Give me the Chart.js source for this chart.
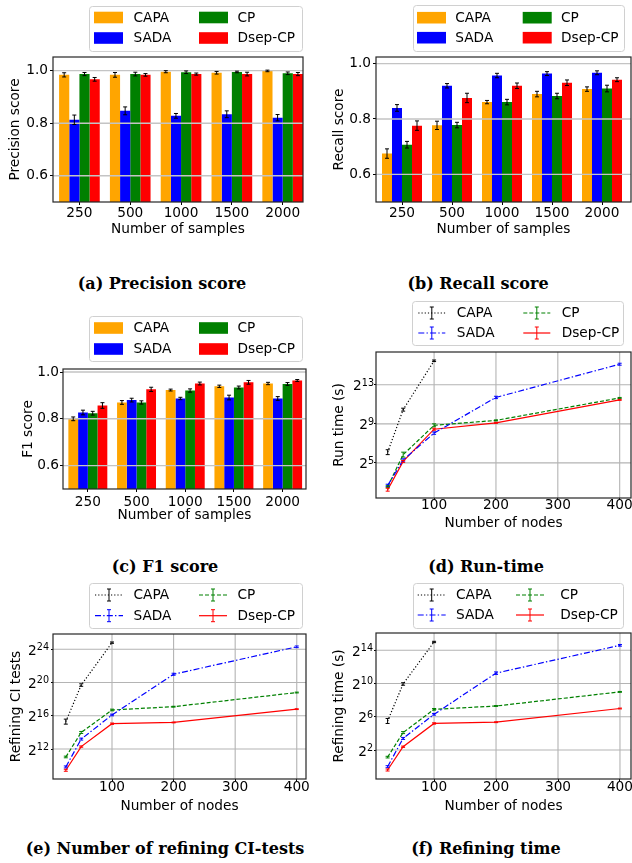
<!DOCTYPE html>
<html>
<head>
<meta charset="utf-8">
<script src="https://cdn.jsdelivr.net/npm/chart.js@4.4.1/dist/chart.umd.min.js"></script>
<style>
  body { margin: 0; background: #fff; width: 632px; height: 863px; position: relative; overflow: hidden; }
  canvas { position: absolute; }
  .cap { position: absolute; width: 340px; line-height: 20px; text-align: center; white-space: nowrap;
         font-family: "DejaVu Serif", serif; font-weight: bold; font-size: 16px; color: #000; }
</style>
</head>
<body>
<canvas id="pa"></canvas><canvas id="pb"></canvas>
<canvas id="pc"></canvas><canvas id="pd"></canvas>
<canvas id="pe"></canvas><canvas id="pf"></canvas>
<div class="cap" style="left:-8px;top:274px">(a) Precision score</div>
<div class="cap" style="left:308px;top:274px">(b) Recall score</div>
<div class="cap" style="left:-5px;top:557px">(c) F1 score</div>
<div class="cap" style="left:316px;top:557px">(d) Run-time</div>
<div class="cap" style="left:-5px;top:839px">(e) Number of refining CI-tests</div>
<div class="cap" style="left:316px;top:839px">(f) Refining time</div>
<script>
(function () {
  'use strict';

  // ---- data ----
  const sampleSizes = ['250', '500', '1000', '1500', '2000'];
  const nodeCounts  = [25, 50, 100, 200, 400];
  const methods     = ['CAPA', 'SADA', 'CP', 'Dsep-CP'];

  const precisionCAPA = [0.984, 0.984, 0.996, 0.992, 0.999];
  const precisionSADA = [0.813, 0.847, 0.828, 0.834, 0.821];
  const precisionCP   = [0.987, 0.987, 0.994, 0.995, 0.990];
  const precisionDsep = [0.967, 0.984, 0.987, 0.987, 0.987];
  const precisionErrCAPA = [0.008, 0.009, 0.004, 0.005, 0.003];
  const precisionErrSADA = [0.018, 0.015, 0.009, 0.013, 0.012];
  const precisionErrCP   = [0.006, 0.007, 0.005, 0.003, 0.005];
  const precisionErrDsep = [0.007, 0.005, 0.004, 0.007, 0.006];

  const recallCAPA = [0.675, 0.777, 0.861, 0.890, 0.908];
  const recallSADA = [0.840, 0.920, 0.957, 0.964, 0.967];
  const recallCP   = [0.707, 0.778, 0.861, 0.883, 0.910];
  const recallDsep = [0.776, 0.876, 0.920, 0.931, 0.942];
  const recallErrCAPA = [0.017, 0.015, 0.006, 0.010, 0.008];
  const recallErrSADA = [0.012, 0.008, 0.008, 0.007, 0.007];
  const recallErrCP   = [0.012, 0.010, 0.010, 0.010, 0.012];
  const recallErrDsep = [0.017, 0.017, 0.010, 0.010, 0.007];

  const f1CAPA = [0.800, 0.870, 0.923, 0.939, 0.951];
  const f1SADA = [0.827, 0.880, 0.887, 0.891, 0.887];
  const f1CP   = [0.824, 0.870, 0.921, 0.934, 0.949];
  const f1Dsep = [0.857, 0.926, 0.951, 0.956, 0.964];
  const f1ErrCAPA = [0.008, 0.008, 0.004, 0.005, 0.005];
  const f1ErrSADA = [0.010, 0.008, 0.005, 0.010, 0.008];
  const f1ErrCP   = [0.008, 0.007, 0.007, 0.006, 0.006];
  const f1ErrDsep = [0.012, 0.009, 0.006, 0.008, 0.004];

  // log2 values
  const runTimeCAPA = [6.1, 10.45, 15.45];
  const runTimeSADA = [2.7, 5.3, 8.05, 11.7, 15.1];
  const runTimeCP   = [2.57, 5.85, 8.85, 9.35, 11.65];
  const runTimeDsep = [2.26, 5.15, 8.45, 9.1, 11.45];
  const runTimeErrCAPA = [0.25, 0.15, 0.08];
  const runTimeErrSADA = [0.12, 0.12, 0.12, 0.12, 0.1];
  const runTimeErrCP   = [0.1, 0.25, 0.15, 0.05, 0.05];
  const runTimeErrDsep = [0.15, 0.1, 0.1, 0.05, 0.05];

  const ciTestsCAPA = [15.3, 19.7, 24.8];
  const ciTestsSADA = [9.85, 13.2, 16.1, 21.0, 24.3];
  const ciTestsCP   = [11.05, 14.0, 16.7, 17.1, 18.8];
  const ciTestsDsep = [9.45, 12.3, 15.05, 15.2, 16.8];
  const ciTestsErrCAPA = [0.3, 0.15, 0.08];
  const ciTestsErrSADA = [0.12, 0.12, 0.1, 0.12, 0.1];
  const ciTestsErrCP   = [0.1, 0.12, 0.1, 0.05, 0.05];
  const ciTestsErrDsep = [0.12, 0.08, 0.08, 0.05, 0.05];

  const refTimeCAPA = [5.5, 9.95, 15.0];
  const refTimeSADA = [0.0, 3.4, 6.3, 11.25, 14.6];
  const refTimeCP   = [1.15, 4.1, 6.9, 7.3, 9.0];
  const refTimeDsep = [-0.4, 2.4, 5.2, 5.35, 7.0];
  const refTimeErrCAPA = [0.3, 0.15, 0.08];
  const refTimeErrSADA = [0.12, 0.12, 0.1, 0.15, 0.1];
  const refTimeErrCP   = [0.1, 0.12, 0.1, 0.05, 0.05];
  const refTimeErrDsep = [0.12, 0.08, 0.08, 0.05, 0.05];

  const barColors  = ['#ffa500', '#0000ff', '#008000', '#ff0000'];
  const lineColors = ['#000000', '#0000ff', '#008000', '#ff0000'];
  const lineDashes = [[1.2, 2], [6, 2.2, 1.4, 2.2], [4, 2], []];

  const FS = 13.7;
  const FAM = '"DejaVu Sans", sans-serif';
  Chart.defaults.font.family = FAM;
  Chart.defaults.font.size = FS;
  Chart.defaults.color = '#000';

  // ---- drawing helpers ----
  function drawGrid(chart, o) {
    const { ctx: c, chartArea: a, scales: { x, y } } = chart;
    c.save();
    c.strokeStyle = o.gridColor; c.lineWidth = o.gridWidth;
    c.beginPath();
    y.ticks.forEach(t => {
      const py = y.getPixelForValue(t.value);
      c.moveTo(a.left, py); c.lineTo(a.right, py);
    });
    if (o.gridX) x.ticks.forEach(t => {
      const px = x.getPixelForValue(t.value);
      c.moveTo(px, a.top); c.lineTo(px, a.bottom);
    });
    c.stroke();
    c.restore();
  }

  function drawErrors(chart, o) {
    const c = chart.ctx, ys = chart.scales.y;
    c.save();
    c.lineWidth = 1;
    chart.data.datasets.forEach((ds, i) => {
      const meta = chart.getDatasetMeta(i);
      c.strokeStyle = o.kind === 'bar' ? '#000' : ds.borderColor;
      meta.data.forEach((el, j) => {
        const v = ds.data[j].y, e = ds.errors[j];
        const y1 = ys.getPixelForValue(v - e), y2 = ys.getPixelForValue(v + e);
        const x = el.x, h = 2;
        c.beginPath();
        c.moveTo(x, y1); c.lineTo(x, y2);
        c.moveTo(x - h, y1); c.lineTo(x + h, y1);
        c.moveTo(x - h, y2); c.lineTo(x + h, y2);
        c.stroke();
      });
    });
    c.restore();
  }

  function drawFrame(chart) {
    const { ctx: c, chartArea: a } = chart;
    c.save();
    c.strokeStyle = '#262626'; c.lineWidth = 1.2;
    c.strokeRect(a.left, a.top, a.right - a.left, a.bottom - a.top);
    c.restore();
  }

  function drawPowerTicks(chart, o) {
    const ys = chart.scales.y, c = chart.ctx;
    const right = chart.chartArea.left - o.powGap;
    c.save();
    c.fillStyle = '#000'; c.textAlign = 'right'; c.textBaseline = 'alphabetic';
    ys.ticks.forEach(t => {
      const y = ys.getPixelForValue(t.value);
      c.font = '9.6px ' + FAM;
      const ew = c.measureText(String(t.value)).width;
      c.fillText(String(t.value), right, y + 0.8);
      c.font = FS + 'px ' + FAM;
      c.fillText('2', right - ew, y + 5.5);
    });
    c.restore();
  }

  function drawLegend(chart, o) {
    const L = o.legend, c = chart.ctx, ox = o.ox, oy = o.oy;
    c.save();
    c.beginPath();
    c.roundRect(L.x - ox + 0.5, L.y - oy + 0.5, L.w, L.h, 3);
    c.fillStyle = 'rgba(255,255,255,0.85)'; c.fill();
    c.strokeStyle = '#d0d0d0'; c.lineWidth = 1; c.stroke();
    chart.data.datasets.forEach((ds, i) => {
      const col = L.cols[Math.floor(i / 2)];
      const cy = L.rows[i % 2] - oy, hx = col.hx - ox;
      if (o.kind === 'bar') {
        c.fillStyle = ds.backgroundColor;
        c.fillRect(hx, cy - L.ph / 2, L.hw, L.ph);
      } else {
        c.strokeStyle = ds.borderColor; c.lineWidth = 1.2;
        c.setLineDash(ds.borderDash);
        c.beginPath(); c.moveTo(hx, cy); c.lineTo(hx + L.hw, cy); c.stroke();
        c.setLineDash([]);
        const mx = hx + L.hw / 2;
        c.lineWidth = 1;
        c.beginPath();
        c.moveTo(mx, cy - 6); c.lineTo(mx, cy + 6);
        c.moveTo(mx - 2, cy - 6); c.lineTo(mx + 2, cy - 6);
        c.moveTo(mx - 2, cy + 6); c.lineTo(mx + 2, cy + 6);
        c.stroke();
      }
      c.fillStyle = '#000'; c.font = FS + 'px ' + FAM;
      c.textAlign = 'left'; c.textBaseline = 'middle';
      c.fillText(ds.label, col.tx - ox, cy + 0.5);
    });
    c.restore();
  }

  const deco = {
    id: 'deco',
    beforeDatasetsDraw(chart, args, o) { if (!o.gridOver) drawGrid(chart, o); },
    afterDatasetsDraw(chart, args, o) {
      if (o.gridOver) drawGrid(chart, o);
      drawErrors(chart, o);
      drawFrame(chart);
    },
    afterDraw(chart, args, o) {
      if (o.kind === 'line') drawPowerTicks(chart, o);
      drawLegend(chart, o);
    },
  };

  function barSets(vals, errs) {
    return vals.map((arr, i) => ({
      label: methods[i],
      data: arr.map((v, j) => ({ x: j, y: v })),
      errors: errs[i],
      backgroundColor: barColors[i],
      borderWidth: 0,
      categoryPercentage: 0.8,
      barPercentage: 1.0,
    }));
  }

  function lineSets(vals, errs) {
    return vals.map((arr, i) => ({
      label: methods[i],
      data: arr.map((v, j) => ({ x: nodeCounts[j], y: v })),
      errors: errs[i],
      borderColor: lineColors[i],
      borderDash: lineDashes[i],
      borderWidth: 1.2,
      pointRadius: 0,
      tension: 0,
      fill: false,
    }));
  }

  function panel(id, box, plot, s) {
    const cv = document.getElementById(id);
    cv.style.left = box.x + 'px'; cv.style.top = box.y + 'px';
    cv.width = box.w; cv.height = box.h;
    const half = FS * 1.2 / 2;
    const isBar = s.kind === 'bar';
    new Chart(cv, {
      type: isBar ? 'bar' : 'line',
      data: { datasets: s.datasets },
      plugins: [deco],
      options: {
        responsive: false,
        animation: false,
        devicePixelRatio: 1,
        layout: { padding: { top: plot.t - box.y, right: box.x + box.w - plot.r, left: 0, bottom: 0 } },
        plugins: {
          legend: { display: false },
          tooltip: { enabled: false },
          deco: {
            kind: s.kind, legend: s.legend, ox: box.x, oy: box.y,
            gridOver: isBar, gridX: !isBar,
            gridColor: isBar ? '#c4c4c4' : '#b4b4b4', gridWidth: isBar ? 1.4 : 1.1,
            powGap: s.yGap,
          },
        },
        scales: {
          x: {
            type: 'linear', min: s.xMin, max: s.xMax, offset: false,
            afterBuildTicks: sc => { sc.ticks = s.xTicks.map(v => ({ value: v })); },
            afterFit: sc => { sc.height = box.y + box.h - plot.b; sc.paddingLeft = 0; sc.paddingRight = 0; },
            ticks: {
              color: '#000', font: { size: FS }, maxRotation: 0, autoSkip: false,
              padding: s.xTickOff - s.xTl - half,
              callback: v => isBar ? sampleSizes[v] : String(v),
            },
            grid: { drawOnChartArea: false, drawTicks: true, tickLength: s.xTl, tickColor: '#000', offset: false },
            border: { display: false },
            title: {
              display: true, text: s.xTitle, color: '#000', font: { size: FS },
              padding: { top: 0, bottom: box.y + box.h - s.xTitleY - half },
            },
          },
          y: {
            type: 'linear', min: s.yMin, max: s.yMax,
            afterBuildTicks: sc => { sc.ticks = s.yTicks.map(v => ({ value: v })); },
            afterFit: sc => { sc.width = plot.l - box.x; sc.paddingTop = 0; sc.paddingBottom = 0; },
            ticks: {
              color: '#000', font: { size: FS }, padding: isBar ? s.yGap - 3 : 0,
              callback: v => isBar ? v.toFixed(1) : '',
            },
            grid: { drawOnChartArea: false, drawTicks: true, tickLength: isBar ? 3 : 2, tickColor: '#000' },
            border: { display: false },
            title: {
              display: true, text: s.yTitle, color: '#000', font: { size: FS },
              padding: { top: s.yTitleX - box.x - half, bottom: 0 },
            },
          },
        },
      },
    });
  }

  const barLegendCols = [{ hx: 94, tx: 133.5 }, { hx: 199, tx: 237.5 }];

  panel('pa', { x: 0, y: 0, w: 316, h: 250 }, { l: 53, t: 57, r: 303, b: 202 }, {
    kind: 'bar',
    datasets: barSets([precisionCAPA, precisionSADA, precisionCP, precisionDsep],
                      [precisionErrCAPA, precisionErrSADA, precisionErrCP, precisionErrDsep]),
    xMin: -0.52, xMax: 4.4, xTicks: [0, 1, 2, 3, 4],
    yMin: 0.5, yMax: 1.052, yTicks: [0.6, 0.8, 1.0],
    xTitle: 'Number of samples', yTitle: 'Precision score',
    xTitleY: 229.5, yTitleX: 15, xTickOff: 11.3, xTl: 3, yGap: 5,
    legend: { x: 89, y: 6, w: 213, h: 45, ph: 11.6, hw: 29, rows: [17.5, 38], cols: barLegendCols },
  });

  panel('pb', { x: 316, y: 0, w: 316, h: 250 }, { l: 376, t: 57, r: 631, b: 202 }, {
    kind: 'bar',
    datasets: barSets([recallCAPA, recallSADA, recallCP, recallDsep],
                      [recallErrCAPA, recallErrSADA, recallErrCP, recallErrDsep]),
    xMin: -0.52, xMax: 4.58, xTicks: [0, 1, 2, 3, 4],
    yMin: 0.5, yMax: 1.024, yTicks: [0.6, 0.8, 1.0],
    xTitle: 'Number of samples', yTitle: 'Recall score',
    xTitleY: 229.5, yTitleX: 339.3, xTickOff: 11.3, xTl: 3, yGap: 5,
    legend: { x: 413, y: 5, w: 211, h: 46, ph: 11.6, hw: 29, rows: [17.7, 37.7],
              cols: [{ hx: 417, tx: 455.3 }, { hx: 522.7, tx: 561 }] },
  });

  panel('pc', { x: 0, y: 298, w: 316, h: 242 }, { l: 63, t: 369, r: 306, b: 489 }, {
    kind: 'bar',
    datasets: barSets([f1CAPA, f1SADA, f1CP, f1Dsep],
                      [f1ErrCAPA, f1ErrSADA, f1ErrCP, f1ErrDsep]),
    xMin: -0.51, xMax: 4.48, xTicks: [0, 1, 2, 3, 4],
    yMin: 0.5, yMax: 1.013, yTicks: [0.6, 0.8, 1.0],
    xTitle: 'Number of samples', yTitle: 'F1 score',
    xTitleY: 515, yTitleX: 28.3, xTickOff: 13.3, xTl: 3, yGap: 4,
    legend: { x: 89, y: 316, w: 213, h: 45, ph: 11.6, hw: 29, rows: [328, 349], cols: barLegendCols },
  });

  panel('pd', { x: 316, y: 298, w: 316, h: 242 }, { l: 376, t: 352, r: 631, b: 498 }, {
    kind: 'line',
    datasets: lineSets([runTimeCAPA, runTimeSADA, runTimeCP, runTimeDsep],
                       [runTimeErrCAPA, runTimeErrSADA, runTimeErrCP, runTimeErrDsep]),
    xMin: 6.1, xMax: 418.3, xTicks: [100, 200, 300, 400],
    yMin: 1.41, yMax: 16.35, yTicks: [5, 9, 13],
    xTitle: 'Number of nodes', yTitle: 'Run time (s)',
    xTitleY: 523.5, yTitleX: 339.3, xTickOff: 7.8, xTl: 2, yGap: 2,
    legend: { x: 412, y: 301, w: 211, h: 44, hw: 27, rows: [313, 333],
              cols: [{ hx: 418.3, tx: 456.7 }, { hx: 523.3, tx: 561.7 }] },
  });

  panel('pe', { x: 0, y: 578, w: 316, h: 240 }, { l: 53, t: 634, r: 306, b: 779 }, {
    kind: 'line',
    datasets: lineSets([ciTestsCAPA, ciTestsSADA, ciTestsCP, ciTestsDsep],
                       [ciTestsErrCAPA, ciTestsErrSADA, ciTestsErrCP, ciTestsErrDsep]),
    xMin: 4.2, xMax: 415, xTicks: [100, 200, 300, 400],
    yMin: 8.4, yMax: 25.84, yTicks: [12, 16, 20, 24],
    xTitle: 'Number of nodes', yTitle: 'Refining CI tests',
    xTitleY: 806, yTitleX: 16.7, xTickOff: 8.2, xTl: 2, yGap: 4,
    legend: { x: 89, y: 583, w: 213, h: 45, hw: 28, rows: [595, 615.7],
              cols: [{ hx: 95, tx: 133.5 }, { hx: 199, tx: 237.5 }] },
  });

  panel('pf', { x: 316, y: 578, w: 316, h: 240 }, { l: 376, t: 633, r: 631, b: 779 }, {
    kind: 'line',
    datasets: lineSets([refTimeCAPA, refTimeSADA, refTimeCP, refTimeDsep],
                       [refTimeErrCAPA, refTimeErrSADA, refTimeErrCP, refTimeErrDsep]),
    xMin: 6.3, xMax: 417.8, xTicks: [100, 200, 300, 400],
    yMin: -1.48, yMax: 16.08, yTicks: [2, 6, 10, 14],
    xTitle: 'Number of nodes', yTitle: 'Refining time (s)',
    xTitleY: 806, yTitleX: 339.3, xTickOff: 8.2, xTl: 2, yGap: 3,
    legend: { x: 413, y: 583, w: 210, h: 45, hw: 28, rows: [595, 615],
              cols: [{ hx: 417.7, tx: 456 }, { hx: 516, tx: 560.3 }] },
  });

})();
</script>
</body>
</html>
